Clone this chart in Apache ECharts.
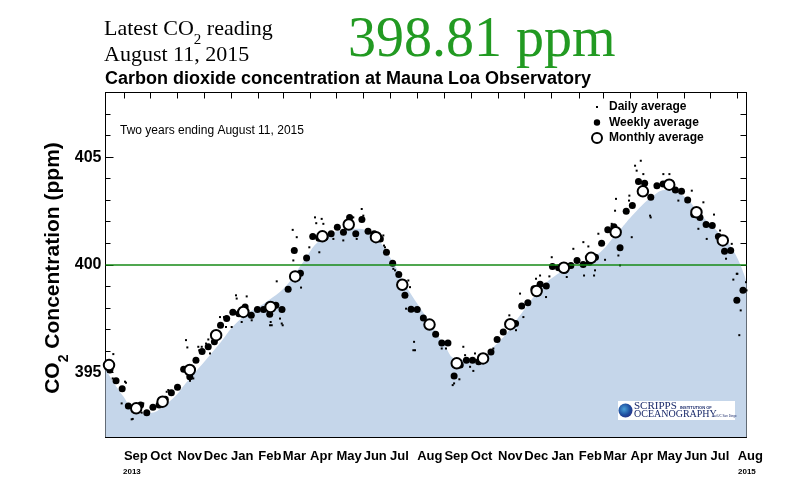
<!DOCTYPE html>
<html><head><meta charset="utf-8">
<script src="https://cdn.jsdelivr.net/npm/echarts@6/dist/echarts.min.js"></script>
<style>html,body{margin:0;padding:0;background:#fff}#c{width:800px;height:480px}</style>
</head><body><div id="c"></div>
<script>
// ---- data ----
const monthNames = ['Jan','Feb','Mar','Apr','May','Jun','Jul','Aug','Sep','Oct','Nov','Dec'];
const startDate = [2013, 7, 11];   // Aug 11, 2013 (UTC, month 0-based)
const endDate = [2015, 7, 11];     // Aug 11, 2015
const weeklyFirstDay = 5;          // days after start of first weekly point
const weeklyValues = [395.11,394.61,394.24,393.44,393.25,393.49,393.13,393.38,393.49,393.75,
  394.06,394.31,395.15,394.80,395.57,395.97,396.19,396.42,397.19,397.50,
  397.79,397.73,398.04,397.65,397.92,397.92,397.70,398.12,397.92,398.86,
  400.66,399.61,400.31,401.31,401.23,401.28,401.44,401.74,401.51,402.20,
  401.44,402.10,401.56,401.44,401.20,400.58,400.07,399.55,398.58,397.93,
  397.92,397.53,397.27,396.77,396.37,396.37,394.83,395.34,395.57,395.57,
  395.49,395.65,395.95,396.53,396.88,397.30,397.27,398.08,398.24,398.89,
  399.09,399.01,399.92,399.86,399.74,399.97,400.20,400.01,400.12,400.35,
  401.00,401.62,401.77,400.79,402.48,402.75,403.87,403.78,403.13,403.67,
  403.75,403.82,403.47,403.41,403.01,402.33,402.20,401.87,401.82,401.31,
  400.63,400.66,398.35,398.81];
const monthlyValues = [395.34,393.33,393.64,395.11,396.73,397.81,398.04,399.46,401.32,401.87,
  401.28,399.07,397.22,395.42,395.65,397.24,398.78,399.86,400.32,401.51,
  403.41,403.72,402.44,401.13];
const dailyDays = [8.9,8.2,23.3,18.4,29.8,43,41.2,71.5,91.7,93.2,96.2,105.7,117.1,119,130.4,143.7,148.6,149.4,160.8,155.1,
  166.5,188.1,189.3,195,198.7,200.7,213.2,217.8,213.9,222.7,232.1,238.6,243.5,248.1,259.5,270.8,282.2,291.8,286.1,316.4,
  318.3,327.8,346.8,351.4,350.6,342.3,22.2,31,69.7,100,106.8,109.6,114.5,135,137.2,147.5,187.4,201.8,246.2,240,
  293.6,314.6,317.2,329.7,344.9,352.5,384,407.5,387.8,382.9,397,395.4,403,409.5,415.2,418.9,420.8,441.7,451.2,459.9,
  467.5,472.1,475.9,490.3,494.9,501.7,505.5,508.2,525.3,532.8,545,556.4,544.2,568.9,561.3,576.5,584.1,586,599.3,596.6,
  580.3,603.1,609.6,612.5,620.2,635.3,642.2,652.4,667.7,680.9,693,684.7,675.2,699.9,706.7,713.2,719.6,715,723.4,721.8,
  729.4,604.9,620.9,596.2,581.4,557.5,549.9,718.9,730];
const dailyValues = [395.85,394.72,394.52,393.56,392.82,393.56,393.13,394.18,396.50,396.16,394.61,396.19,396.53,395.88,397.57,397.11,398.58,398.43,398.53,397.34,
  397.42,397.34,397.19,399.23,397.50,397.27,401.62,401.28,400.20,398.94,400.81,402.20,400.58,401.90,401.20,401.13,402.20,402.59,401.20,401.36,
  400.81,399.81,398.96,396.42,396.03,397.96,394.57,392.84,394.10,394.72,396.03,396.19,396.34,397.57,397.11,397.73,397.19,397.19,402.13,401.93,
  402.28,401.20,400.89,399.74,399.27,396.03,396.46,396.19,396.11,396.11,394.49,394.41,394.68,395.80,395.26,395.07,395.88,396.11,396.93,397.65,
  396.96,398.66,397.57,399.35,399.50,398.50,399.46,400.35,399.43,400.74,399.50,399.50,401.05,400.23,401.44,401.90,400.43,399.97,401.28,403.21,
  402.51,404.60,404.83,404.21,402.28,404.21,404.21,402.98,403.44,402.90,402.33,401.20,401.67,401.59,400.28,400.97,399.58,399.31,397.88,396.73,
  399.19,404.37,402.20,402.98,403.06,399.74,400.85,399.58,398.81];
const fitDays = [0,20,35,45,70,96,127,153,184,206,225,244,267,286,305,324,343,370,385,400,419,446,468,491,514,537,559,582,605,624,639,658,677,696,715,730];
const fitValues = [395.15,393.9,393.15,393.1,393.56,394.72,396.19,397.45,398.3,399.04,400.12,401.13,401.59,401.67,401.36,400.35,398.96,397.3,396.34,395.62,395.57,396.34,397.42,398.66,399.55,399.97,400.43,401.44,402.51,403.21,403.47,403.21,402.36,401.59,400.66,399.2];
const yLabelValues = [395, 400, 405];
const yTickValues = [393,394,395,396,397,398,399,400,401,402,403,404,405,406,407];
const referenceLevel = 400;

// ---- derived ----
const DAY = 86400000;
const T0 = Date.UTC(startDate[0], startDate[1], startDate[2]);
const T1 = Date.UTC(endDate[0], endDate[1], endDate[2]);
const monthTicks = [];
for (let i = 0; i < 24; i++) monthTicks.push(Date.UTC(2013, 8 + i, 1));
const weeklyData = weeklyValues.map((v, i) => [T0 + (weeklyFirstDay + 7 * i) * DAY, v]);
const monthlyData = monthlyValues.map((v, i) => [Date.UTC(2013, 7 + i, 15), v]);
const dailyData = dailyValues.map((v, i) => [T0 + dailyDays[i] * DAY, v]);
const fitData = fitValues.map((v, i) => [T0 + fitDays[i] * DAY, v]);

const SANS = "'Liberation Sans', Arial, sans-serif";
const SERIF = "'Liberation Serif', 'Times New Roman', serif";

const chart = echarts.init(document.getElementById('c'), null, {renderer: 'canvas'});
const xBase = {
  type: 'value', min: T0, max: T1,
  axisLine: {show: true, lineStyle: {color: '#000', width: 1}},
  splitLine: {show: false}
};
chart.setOption({
  animation: false,
  backgroundColor: '#fff',
  textStyle: {fontFamily: SANS},
  grid: {left: 105.5, right: 53.5, top: 92.5, bottom: 43, show: true, borderColor: '#000', borderWidth: 1, backgroundColor: 'transparent'},
  xAxis: [
    Object.assign({}, xBase, {
      position: 'bottom',
      axisTick: {show: true, inside: true, length: 7, customValues: monthTicks, lineStyle: {color: '#000'}},
      axisLabel: {show: true, customValues: monthTicks, align: 'left', margin: 13,
        formatter: v => monthNames[new Date(v).getUTCMonth()],
        fontSize: 13, fontWeight: 'bold', color: '#000', fontFamily: SANS}
    }),
    Object.assign({}, xBase, {
      position: 'top',
      axisTick: {show: true, inside: true, length: 6, customValues: monthTicks, lineStyle: {color: '#000'}},
      axisLabel: {show: false}
    })
  ],
  yAxis: [
    {type: 'value', min: 392, max: 408, position: 'left',
      axisLine: {show: true, lineStyle: {color: '#000'}},
      axisTick: {show: true, inside: true, length: 8, customValues: yLabelValues, lineStyle: {color: '#000'}},
      axisLabel: {show: true, customValues: yLabelValues, margin: 4, fontSize: 16, fontWeight: 'bold', color: '#000', fontFamily: SANS},
      splitLine: {show: false}},
    {type: 'value', min: 392, max: 408, position: 'right',
      axisLine: {show: true, lineStyle: {color: '#000'}},
      axisTick: {show: true, inside: true, length: 6, customValues: yTickValues, lineStyle: {color: '#000'}},
      axisLabel: {show: false}, splitLine: {show: false}},
    {type: 'value', min: 392, max: 408, position: 'left',
      axisLine: {show: false},
      axisTick: {show: true, inside: true, length: 5, customValues: yTickValues, lineStyle: {color: '#000'}},
      axisLabel: {show: false}, splitLine: {show: false}}
  ],
  legend: {
    orient: 'vertical', left: 586, top: 96, itemWidth: 10, itemHeight: 10, itemGap: 3.5,
    selectedMode: false,
    textStyle: {fontSize: 12, fontWeight: 'bold', color: '#000', fontFamily: SANS, padding: [0, 0, 0, 2]},
    data: [
      {name: 'Daily average', icon: 'path://M0,0M10,10M4,4L6,4L6,6L4,6Z'},
      {name: 'Weekly average', icon: 'path://M0,0M10,10M5,1.8A3.2,3.2,0,1,1,4.99,1.8Z'},
      {name: 'Monthly average', icon: 'circle'}
    ]
  },
  series: [
    {name: 'fit', type: 'line', data: fitData, smooth: 0.5, symbol: 'none', silent: true, z: 1,
      lineStyle: {width: 0, opacity: 0},
      areaStyle: {color: '#c5d6ea', opacity: 1, origin: 'start'},
      markLine: {silent: true, symbol: 'none', label: {show: false},
        lineStyle: {color: '#168a16', width: 1.5, type: 'solid'},
        data: [{yAxis: referenceLevel}]}},
    {name: 'Daily average', type: 'scatter', data: dailyData, symbol: 'rect', symbolSize: 2, z: 3,
      itemStyle: {color: '#000', opacity: 1}},
    {name: 'Weekly average', type: 'scatter', data: weeklyData, symbol: 'circle', symbolSize: 7, z: 4,
      itemStyle: {color: '#000', opacity: 1}},
    {name: 'Monthly average', type: 'scatter', data: monthlyData, symbol: 'circle', symbolSize: 10.5, z: 5,
      itemStyle: {color: '#fff', borderColor: '#000', borderWidth: 2, opacity: 1}}
  ],
  graphic: [
    {type: 'text', z: 100, x: 104, y: 29, style: {text: '{a|Latest CO}{s|2}{a| reading}', verticalAlign: 'middle', align: 'left',
      rich: {a: {fontFamily: SERIF, fontSize: 22, lineHeight: 38, fill: '#000'}, s: {fontFamily: SERIF, fontSize: 15, lineHeight: 12, verticalAlign: 'bottom', fill: '#000'}}}},
    {type: 'text', z: 100, x: 104, y: 55, style: {text: 'August 11, 2015', font: '22px ' + SERIF, fill: '#000', verticalAlign: 'middle', align: 'left'}},
    {type: 'text', z: 100, x: 348, y: 41, style: {text: '398.81 ppm', font: '56px ' + SERIF, fill: '#229a22', verticalAlign: 'middle', align: 'left'}},
    {type: 'text', z: 100, x: 105, y: 79.5, style: {text: 'Carbon dioxide concentration at Mauna Loa Observatory', font: 'bold 18px ' + SANS, fill: '#000', verticalAlign: 'middle', align: 'left'}},
    {type: 'text', z: 100, x: 120, y: 131, style: {text: 'Two years ending August 11, 2015', font: '12px ' + SANS, fill: '#000', verticalAlign: 'middle', align: 'left'}},
    {type: 'text', z: 100, x: 53, y: 268, rotation: Math.PI / 2, style: {text: '{a|CO}{s|2}{a| Concentration (ppm)}', align: 'center', verticalAlign: 'middle',
      rich: {a: {fontFamily: SANS, fontWeight: 'bold', fontSize: 21, lineHeight: 36, fill: '#000'}, s: {fontFamily: SANS, fontWeight: 'bold', fontSize: 14, lineHeight: 12, verticalAlign: 'bottom', fill: '#000'}}}},
    {type: 'text', z: 100, x: 123, y: 472, style: {text: '2013', font: 'bold 8px ' + SANS, fill: '#000', verticalAlign: 'middle', align: 'left'}},
    {type: 'text', z: 100, x: 738, y: 472, style: {text: '2015', font: 'bold 8px ' + SANS, fill: '#000', verticalAlign: 'middle', align: 'left'}},
    {type: 'group', z: 100, x: 618, y: 401, children: [
      {type: 'rect', z: 100, shape: {x: 0, y: 0, width: 117, height: 19}, style: {fill: '#fff'}},
      {type: 'circle', z: 101, shape: {cx: 7.5, cy: 9.5, r: 7}, style: {fill: new echarts.graphic.RadialGradient(0.4, 0.4, 0.7, [{offset: 0, color: '#4aa0d8'}, {offset: 0.6, color: '#1f4fa0'}, {offset: 1, color: '#2a2a80'}])}},
      {type: 'text', z: 101, x: 16, y: 5, style: {text: 'SCRIPPS', font: '11px ' + SERIF, fill: '#1a2a6a', verticalAlign: 'middle'}},
      {type: 'text', z: 101, x: 62, y: 7, style: {text: 'INSTITUTION OF', font: 'bold 4px ' + SANS, fill: '#1a2a6a', verticalAlign: 'middle'}},
      {type: 'text', z: 101, x: 16, y: 13.5, style: {text: 'OCEANOGRAPHY', font: '10px ' + SERIF, fill: '#1a2a6a', verticalAlign: 'middle'}},
      {type: 'text', z: 101, x: 96, y: 15, style: {text: 'at UC San Diego', font: '3px ' + SANS, fill: '#1a2a6a', verticalAlign: 'middle'}}
    ]}
  ]
});
</script>
</body></html>
